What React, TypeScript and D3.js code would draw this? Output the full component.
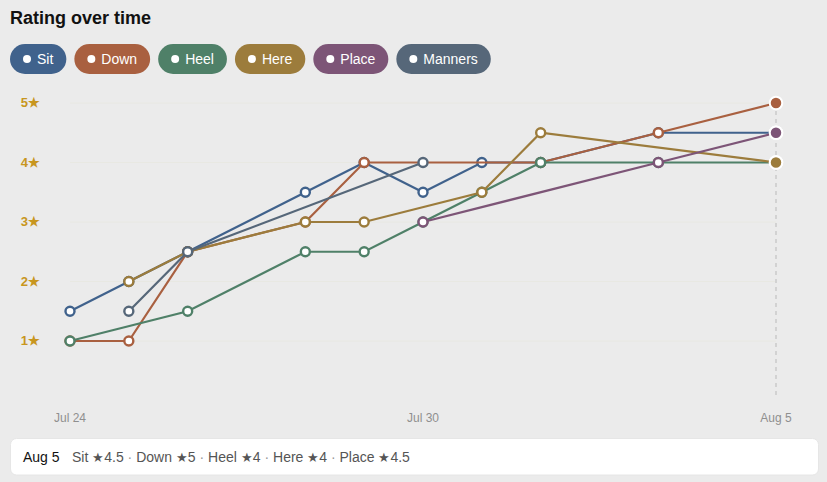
import { useEffect, useRef } from 'react';
import * as d3 from 'd3';

const dates = ['Jul 24', 'Jul 25', 'Jul 26', 'Jul 27', 'Jul 28', 'Jul 29', 'Jul 30', 'Jul 31', 'Aug 1', 'Aug 2', 'Aug 3', 'Aug 4', 'Aug 5'];
const tickDates = ['Jul 24', 'Jul 30', 'Aug 5'];
const stars = [1, 2, 3, 4, 5];

// null = no rating logged that day
const sit = [1.5, 2, 2.5, null, 3.5, 4, 3.5, 4, 4, null, 4.5, null, 4.5];
const down = [1, 1, 2.5, null, 3, 4, null, null, 4, null, 4.5, null, 5];
const heel = [1, null, 1.5, null, 2.5, 2.5, 3, 3.5, 4, null, 4, null, 4];
const here = [null, 2, 2.5, null, 3, 3, null, 3.5, 4.5, null, null, null, 4];
const place = [null, null, null, null, null, null, 3, null, null, null, 4, null, 4.5];
const manners = [null, 1.5, 2.5, null, null, null, 4, null, null, null, null, null, null];

const names = ['Sit', 'Down', 'Heel', 'Here', 'Place', 'Manners'];
const values = [sit, down, heel, here, place, manners];
const colors = ['#40628c', '#a96040', '#4f8068', '#9c7c3c', '#7d5577', '#566779'];

const width = 827;
const height = 482;
const activeDate = 'Aug 5';

export default function App() {
  const svgRef = useRef<SVGSVGElement>(null);

  useEffect(() => {
    if (!svgRef.current) return;

    document.body.style.margin = '0';
    document.body.style.background = '#ebebeb';

    d3.select(svgRef.current).selectAll('*').remove();

    const svg = d3
      .select(svgRef.current)
      .attr('width', width)
      .attr('height', height)
      .attr('viewBox', `0 0 ${width} ${height}`)
      .style('display', 'block')
      .style('font-family', '"Liberation Sans", Arial, sans-serif');

    // Title
    svg
      .append('text')
      .attr('x', 10)
      .attr('y', 24)
      .attr('font-size', 18)
      .attr('font-weight', 700)
      .attr('fill', '#111')
      .text('Rating over time');

    // Legend pills, sized from the measured label
    let pillX = 10;
    names.forEach((name, i) => {
      const pill = svg.append('g').attr('transform', `translate(${pillX},44)`);
      const rect = pill
        .append('rect')
        .attr('height', 30)
        .attr('rx', 15)
        .attr('fill', colors[i]);
      pill.append('circle').attr('cx', 17).attr('cy', 15).attr('r', 4).attr('fill', '#fff');
      const label = pill
        .append('text')
        .attr('x', 27)
        .attr('y', 20)
        .attr('font-size', 14)
        .attr('fill', '#fff')
        .text(name);
      const w = 40 + (label.node() as SVGTextElement).getComputedTextLength();
      rect.attr('width', w);
      pillX += w + 8;
    });

    // Scales
    const x = d3.scalePoint<string>().domain(dates).range([70, 776]);
    const y = d3.scaleLinear().domain([0, 5]).range([400.5, 103]);

    // Grid + y labels
    svg
      .append('g')
      .selectAll('line')
      .data(stars)
      .enter()
      .append('line')
      .attr('x1', 70)
      .attr('x2', 776)
      .attr('y1', (d) => y(d))
      .attr('y2', (d) => y(d))
      .attr('stroke', '#e8e8e2')
      .attr('stroke-width', 1);

    svg
      .append('g')
      .selectAll('text')
      .data(stars)
      .enter()
      .append('text')
      .attr('x', 40)
      .attr('y', (d) => y(d) + 4)
      .attr('text-anchor', 'end')
      .attr('font-size', 13)
      .attr('font-weight', 700)
      .attr('fill', '#c8961e')
      .text((d) => `${d}★`);

    // X labels
    svg
      .append('g')
      .selectAll('text')
      .data(tickDates)
      .enter()
      .append('text')
      .attr('x', (d) => x(d) as number)
      .attr('y', 422)
      .attr('text-anchor', 'middle')
      .attr('font-size', 12)
      .attr('fill', '#8f8f8f')
      .text((d) => d);

    // Crosshair at the active date
    svg
      .append('line')
      .attr('x1', x(activeDate) as number)
      .attr('x2', x(activeDate) as number)
      .attr('y1', y(5))
      .attr('y2', 397)
      .attr('stroke', '#d2d2d2')
      .attr('stroke-width', 2)
      .attr('stroke-dasharray', '4 4');

    // Series: line then its own dots, so later series paint over earlier ones
    const line = d3
      .line<{ date: string; value: number }>()
      .x((d) => x(d.date) as number)
      .y((d) => y(d.value));

    names.forEach((name, i) => {
      const points = dates
        .map((date, j) => ({ date, value: values[i][j] as number | null }))
        .filter((d) => d.value !== null) as { date: string; value: number }[];
      const g = svg.append('g').attr('class', name);

      g.append('path')
        .attr('d', line(points))
        .attr('fill', 'none')
        .attr('stroke', colors[i])
        .attr('stroke-width', 2.2);

      g.selectAll('circle')
        .data(points)
        .enter()
        .append('circle')
        .attr('cx', (d) => x(d.date) as number)
        .attr('cy', (d) => y(d.value))
        .attr('r', (d) => (d.date === activeDate ? 6.25 : 4.5))
        .attr('fill', (d) => (d.date === activeDate ? colors[i] : '#fff'))
        .attr('stroke', (d) => (d.date === activeDate ? '#fff' : colors[i]))
        .attr('stroke-width', (d) => (d.date === activeDate ? 2 : 2.4));
    });

    // Readout card
    svg
      .append('rect')
      .attr('x', 10.5)
      .attr('y', 438.5)
      .attr('width', 808)
      .attr('height', 36.5)
      .attr('rx', 6)
      .attr('fill', '#fff')
      .attr('stroke', '#e6e6e6');

    svg
      .append('text')
      .attr('x', 23)
      .attr('y', 462)
      .attr('font-size', 14)
      .attr('fill', '#111')
      .text(activeDate);

    const readout = svg
      .append('text')
      .attr('x', 72)
      .attr('y', 462)
      .attr('font-size', 14)
      .attr('fill', '#555');
    const activeIndex = dates.indexOf(activeDate);
    names.forEach((name, i) => {
      const v = values[i][activeIndex];
      if (v === null) return;
      if (i > 0) readout.append('tspan').attr('fill', '#999').text(' · ');
      readout.append('tspan').text(`${name} `);
      readout.append('tspan').attr('font-size', 12.5).text('★');
      readout.append('tspan').text(`${v}`);
    });
  }, []);

  return <svg ref={svgRef} />;
}
